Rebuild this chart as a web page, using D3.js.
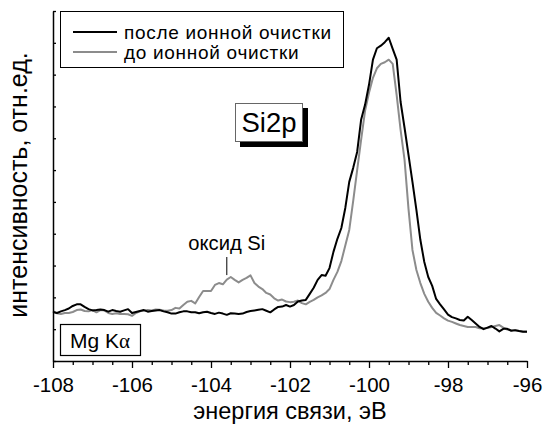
<!DOCTYPE html>
<html>
<head>
<meta charset="utf-8">
<script src="https://cdn.jsdelivr.net/npm/d3@7"></script>
<style>
  html, body { margin: 0; padding: 0; background: #fff; }
  svg { display: block; font-family: "Liberation Sans", Arial, sans-serif; }
</style>
</head>
<body>
<svg id="chart" width="544" height="428"></svg>
<script>
// Binding energy grid, eV (step 0.1)
const energy = [
  -108.0,-107.9,-107.8,-107.7,-107.6,-107.5,-107.4,-107.3,-107.2,-107.1,
  -107.0,-106.9,-106.8,-106.7,-106.6,-106.5,-106.4,-106.3,-106.2,-106.1,
  -106.0,-105.9,-105.8,-105.7,-105.6,-105.5,-105.4,-105.3,-105.2,-105.1,
  -105.0,-104.9,-104.8,-104.7,-104.6,-104.5,-104.4,-104.3,-104.2,-104.1,
  -104.0,-103.9,-103.8,-103.7,-103.6,-103.5,-103.4,-103.3,-103.2,-103.1,
  -103.0,-102.9,-102.8,-102.7,-102.6,-102.5,-102.4,-102.3,-102.2,-102.1,
  -102.0,-101.9,-101.8,-101.7,-101.6,-101.5,-101.4,-101.3,-101.2,-101.1,
  -101.0,-100.9,-100.8,-100.7,-100.6,-100.5,-100.4,-100.3,-100.2,-100.1,
  -100.0,-99.9,-99.8,-99.7,-99.6,-99.5,-99.4,-99.3,-99.2,-99.1,
  -99.0,-98.9,-98.8,-98.7,-98.6,-98.5,-98.4,-98.3,-98.2,-98.1,
  -98.0,-97.9,-97.8,-97.7,-97.6,-97.5,-97.4,-97.3,-97.2,-97.1,
  -97.0,-96.9,-96.8,-96.7,-96.6,-96.5,-96.4,-96.3,-96.2,-96.1,
  -96.0
];

// Si2p intensity after ion cleaning, arb. units
const afterCleaning = [
  1.54,1.51,1.56,1.60,1.65,1.73,1.78,1.78,1.70,1.63,
  1.59,1.60,1.62,1.60,1.55,1.60,1.57,1.55,1.59,1.63,
  1.51,1.54,1.57,1.60,1.55,1.57,1.59,1.60,1.56,1.53,
  1.49,1.49,1.53,1.56,1.56,1.53,1.53,1.50,1.53,1.55,
  1.51,1.48,1.52,1.49,1.45,1.50,1.49,1.48,1.49,1.54,
  1.57,1.59,1.61,1.63,1.58,1.53,1.62,1.70,1.71,1.76,
  1.71,1.76,1.87,1.90,1.92,2.11,2.30,2.55,2.70,2.68,
  2.92,3.43,3.84,4.18,4.81,5.63,6.07,6.57,7.58,8.05,
  8.68,9.47,9.83,9.91,10.02,10.16,9.81,9.47,8.14,7.33,
  6.48,5.63,4.75,3.81,3.11,2.64,2.36,1.95,1.78,1.62,
  1.46,1.38,1.34,1.29,1.27,1.39,1.29,1.18,1.07,1.00,
  1.05,1.10,1.02,0.93,1.01,1.01,0.95,0.97,0.94,0.92,
  0.92
];

// Si2p intensity before ion cleaning, arb. units
const beforeCleaning = [
  1.57,1.50,1.48,1.51,1.51,1.54,1.60,1.62,1.57,1.56,
  1.60,1.53,1.60,1.59,1.51,1.48,1.50,1.48,1.48,1.47,
  1.42,1.51,1.56,1.59,1.60,1.59,1.62,1.61,1.59,1.58,
  1.60,1.67,1.65,1.76,1.86,1.89,1.81,2.01,2.20,2.20,
  2.20,2.39,2.45,2.41,2.56,2.64,2.55,2.47,2.55,2.61,
  2.69,2.45,2.34,2.26,2.14,2.09,1.97,1.90,1.93,1.87,
  1.85,1.86,1.90,1.82,1.78,1.86,1.92,2.00,2.06,2.14,
  2.26,2.55,2.80,3.14,3.63,4.12,5.03,6.00,6.95,7.86,
  8.43,8.90,9.20,9.34,9.39,9.47,9.34,8.36,7.26,6.32,
  4.78,3.49,2.86,2.45,2.11,1.86,1.67,1.51,1.43,1.34,
  1.27,1.23,1.18,1.13,1.10,1.07,1.07,1.07,1.03,1.03,
  1.04,1.07,1.10,1.13,1.05,0.99,0.97,0.96,0.94,0.93,
  0.93
];

const seriesNames = ["после ионной очистки", "до ионной очистки"];
const seriesColors = ["#000000", "#8c8c8c"];
const xMajorTicks = [-108, -106, -104, -102, -100, -98, -96];
const xMinorTicks = [-107.5, -107, -106.5, -105.5, -105, -104.5, -103.5, -103, -102.5,
                     -101.5, -101, -100.5, -99.5, -99, -98.5, -97.5, -97, -96.5];
const yTicks = [0, 1, 2, 3, 4, 5, 6, 7, 8, 9, 10, 11];
const xTitle = "энергия связи, эВ";
const yTitle = "интенсивность, отн.ед.";
const oxideLabel = "оксид Si";
const oxideEnergy = -103.6;
const oxideLevel = 2.7;
const lineLabel = "Si2p";

const svg = d3.select("#chart");
const x = d3.scaleLinear().domain([-108, -96]).range([53, 527]);
const y = d3.scaleLinear().domain([0, 11]).range([361, 11]);

// Curves: the "before" trace first so the black one lies on top
const line = d3.line().x((d, i) => x(energy[i])).y(d => y(d));
svg.append("path").datum(beforeCleaning)
  .attr("d", line).attr("fill", "none")
  .attr("stroke", seriesColors[1]).attr("stroke-width", 2).attr("stroke-linejoin", "round");
svg.append("path").datum(afterCleaning)
  .attr("d", line).attr("fill", "none")
  .attr("stroke", seriesColors[0]).attr("stroke-width", 2).attr("stroke-linejoin", "round");

// Bottom axis: minor ticks, then labelled major ticks
const xMinor = svg.append("g").attr("transform", "translate(0,361)")
  .call(d3.axisBottom(x).tickValues(xMinorTicks).tickSize(4).tickFormat(""));
const xMajor = svg.append("g").attr("transform", "translate(0,361)")
  .call(d3.axisBottom(x).tickValues(xMajorTicks).tickSize(7).tickSizeOuter(0)
        .tickPadding(9).tickFormat(d => String(d)));
[xMinor, xMajor].forEach(g => {
  g.selectAll("line").attr("stroke", "#000").attr("stroke-width", 1.3);
  g.select(".domain").attr("stroke", "#000").attr("stroke-width", 1.5);
});
xMinor.select(".domain").remove();
xMajor.selectAll("text").attr("font-size", 20.5).attr("fill", "#000")
  .attr("font-family", "Liberation Sans, Arial, sans-serif");

// Left axis: small inward ticks, no labels
const yAxis = svg.append("g").attr("transform", "translate(53,0)")
  .call(d3.axisLeft(y).tickValues(yTicks).tickSizeInner(-3).tickSizeOuter(0).tickFormat(""));
yAxis.selectAll("line").attr("stroke", "#000").attr("stroke-width", 1.3);
yAxis.select(".domain").attr("stroke", "#000").attr("stroke-width", 1.5);

// Axis titles
svg.append("text").attr("x", 290).attr("y", 419)
  .attr("text-anchor", "middle").attr("font-size", 23.5).text(xTitle);
svg.append("text").attr("transform", "translate(27,185) rotate(-90)")
  .attr("text-anchor", "middle").attr("font-size", 25).text(yTitle);

// Legend
const legend = svg.append("g");
legend.append("rect").attr("x", 60.5).attr("y", 11.5).attr("width", 283).attr("height", 56)
  .attr("fill", "#fff").attr("stroke", "#000").attr("stroke-width", 1);
seriesNames.forEach((name, i) => {
  const ly = 32 + i * 20;
  legend.append("line").attr("x1", 73).attr("x2", 117).attr("y1", ly).attr("y2", ly)
    .attr("stroke", seriesColors[i]).attr("stroke-width", 2);
  legend.append("text").attr("x", 124).attr("y", ly).attr("dy", "0.35em")
    .attr("font-size", 19).attr("letter-spacing", 0.7).text(name);
});

// Peak label with drop shadow
svg.append("rect").attr("x", 240).attr("y", 108).attr("width", 68).attr("height", 39).attr("fill", "#000");
svg.append("rect").attr("x", 235.5).attr("y", 103.5).attr("width", 67).attr("height", 38)
  .attr("fill", "#fff").attr("stroke", "#666").attr("stroke-width", 1);
svg.append("text").attr("x", 269).attr("y", 132).attr("text-anchor", "middle")
  .attr("font-size", 27.5).text(lineLabel);

// Oxide annotation
svg.append("text").attr("x", x(oxideEnergy)).attr("y", 250).attr("text-anchor", "middle")
  .attr("font-size", 20.2).text(oxideLabel);
svg.append("line").attr("x1", x(oxideEnergy)).attr("x2", x(oxideEnergy))
  .attr("y1", 257).attr("y2", y(oxideLevel))
  .attr("stroke", "#000").attr("stroke-width", 1);

// Excitation source
svg.append("rect").attr("x", 60.5).attr("y", 324.5).attr("width", 80).attr("height", 31)
  .attr("fill", "#fff").attr("stroke", "#000").attr("stroke-width", 1.2);
const src = svg.append("text").attr("x", 100).attr("y", 348).attr("text-anchor", "middle")
  .attr("font-size", 21);
src.append("tspan").text("Mg K");
src.append("tspan").attr("font-family", "Liberation Serif, Times New Roman, serif").text("α");
</script>
</body>
</html>
